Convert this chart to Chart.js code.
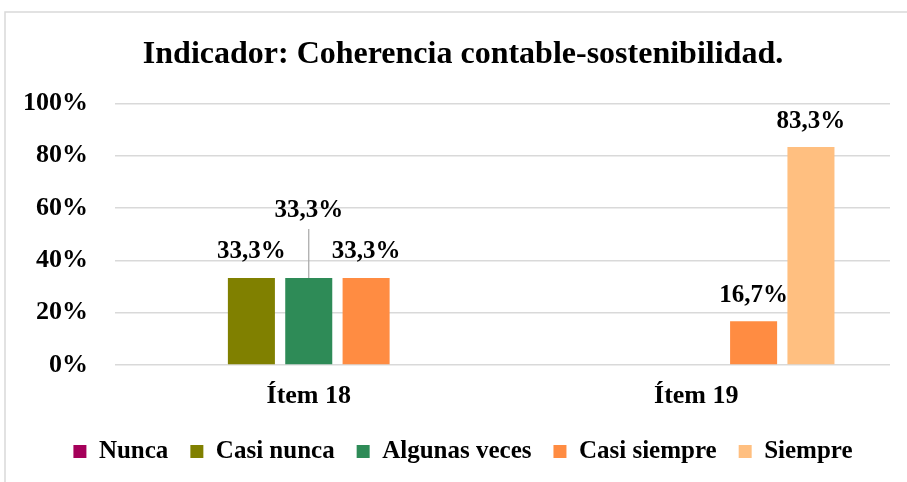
<!DOCTYPE html>
<html>
<head>
<meta charset="utf-8">
<script src="https://cdn.jsdelivr.net/npm/chart.js@4/dist/chart.umd.min.js"></script>
<style>
  html, body { margin: 0; padding: 0; background: #fff; }
  #wrap { position: relative; width: 907px; height: 482px; }
</style>
</head>
<body>
<div id="wrap"><canvas id="c" width="907" height="482"></canvas></div>
<script>
const categories = ["Ítem 18", "Ítem 19"];
const seriesNames = ["Nunca", "Casi nunca", "Algunas veces", "Casi siempre", "Siempre"];
const nunca = [0, 0];
const casiNunca = [33.3, 0];
const algunasVeces = [33.3, 0];
const casiSiempre = [33.3, 16.7];
const siempre = [0, 83.3];
const yTicks = [0, 20, 40, 60, 80, 100];
const colors = ["#A5005A", "#808000", "#2E8B57", "#FF8C42", "#FFBF80"];

const serif = "'Liberation Serif', 'Times New Roman', serif";

const labelPlugin = {
  id: 'valueLabels',
  afterDatasetsDraw(chart) {
    const ctx = chart.ctx;
    ctx.save();
    ctx.font = "bold 25px " + serif;
    ctx.fillStyle = "#000";
    ctx.textAlign = "center";
    ctx.textBaseline = "middle";
    chart.data.datasets.forEach((ds, di) => {
      const meta = chart.getDatasetMeta(di);
      meta.data.forEach((el, i) => {
        const v = ds.data[i];
        if (!v) return;
        const txt = v.toFixed(1).replace('.', ',') + '%';
        const lift = (ds.labelLift && ds.labelLift[i]) || 0;
        let y = el.y - 26 - lift;
        if (lift) {
          ctx.strokeStyle = "#a6a6a6";
          ctx.lineWidth = 1.2;
          ctx.beginPath();
          ctx.moveTo(el.x, el.y);
          ctx.lineTo(el.x, y + 18);
          ctx.stroke();
        }
        ctx.fillText(txt, el.x, y);
      });
    });
    ctx.restore();
  }
};

const borderPlugin = {
  id: 'frame',
  beforeDraw(chart) {
    const ctx = chart.ctx;
    ctx.save();
    ctx.strokeStyle = "#d9d9d9";
    ctx.lineWidth = 1.5;
    ctx.strokeRect(5, 12, 920, 500);
    ctx.restore();
  }
};

const seriesData = [nunca, casiNunca, algunasVeces, casiSiempre, siempre];

new Chart(document.getElementById('c'), {
  type: 'bar',
  data: {
    labels: categories,
    datasets: seriesNames.map((n, k) => ({
      label: n,
      data: seriesData[k],
      backgroundColor: colors[k],
      borderWidth: 0,
      categoryPercentage: 0.74,
      barPercentage: 0.82,
      labelLift: k === 2 ? [41, 0] : null
    }))
  },
  options: {
    responsive: false,
    animation: false,
    devicePixelRatio: 1,
    layout: { padding: { left: 36, right: 17, top: 20, bottom: 8 } },
    plugins: {
      title: {
        display: true,
        text: "Indicador: Coherencia contable-sostenibilidad.",
        color: "#000",
        font: { family: serif, size: 32, weight: 'bold' },
        padding: { top: 16, bottom: 29 }
      },
      legend: {
        position: 'bottom',
        labels: {
          color: "#000",
          font: { family: serif, size: 25, weight: 'bold' },
          boxWidth: 13,
          boxHeight: 13,
          padding: 22
        }
      },
      tooltip: { enabled: false }
    },
    scales: {
      x: {
        grid: { display: false, drawTicks: false, tickLength: 0 },
        border: { display: false },
        ticks: { color: "#000", font: { family: serif, size: 26, weight: 'bold' }, padding: 16 },
        afterFit(s) { s.height = 52; }
      },
      y: {
        min: 0, max: 100,
        afterBuildTicks(s) { s.ticks = yTicks.map(v => ({ value: v })); },
        grid: { color: "#d9d9d9", lineWidth: 1.5, drawTicks: false, tickLength: 0 },
        border: { display: false },
        ticks: {
          color: "#000",
          font: { family: serif, size: 26, weight: 'bold' },
          padding: 27,
          callback: v => v + '%'
        },
        afterFit(s) {
          s.width = 79;
          s._computeLabelArea = () => undefined;
        }
      }
    }
  },
  plugins: [labelPlugin, borderPlugin]
});
</script>
</body>
</html>
